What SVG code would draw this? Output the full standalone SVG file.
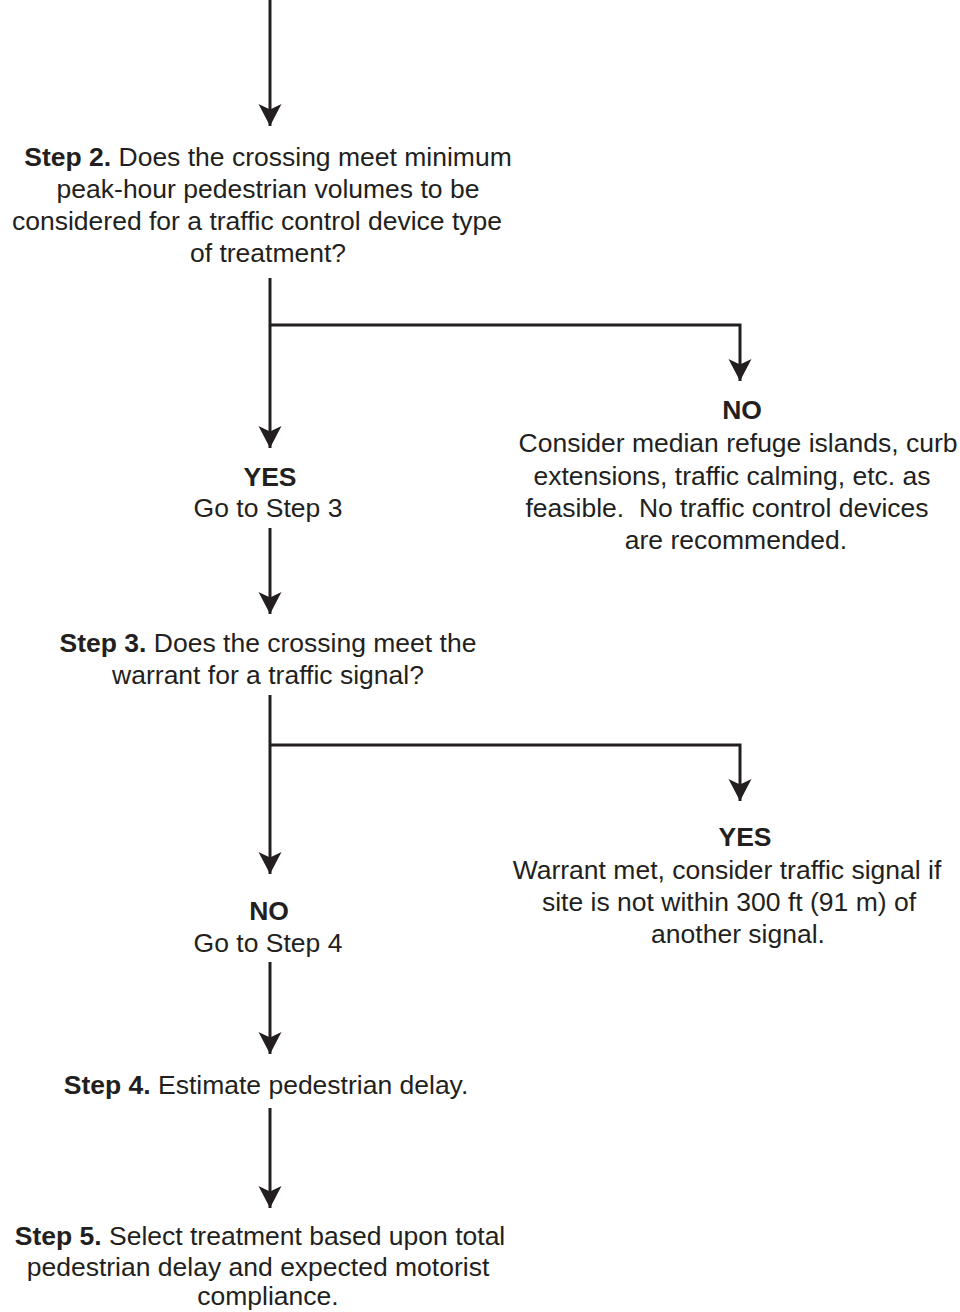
<svg xmlns="http://www.w3.org/2000/svg" width="960" height="1312" viewBox="0 0 960 1312">
<style>
text{font-family:"Liberation Sans",Arial,sans-serif;font-size:26.5px;fill:#231f20;text-anchor:middle}
.b{font-weight:bold}
.c{fill:none;stroke:#231f20;stroke-width:3}
</style>
<defs>
<marker id="ah" viewBox="-23 -12 24 24" refX="0" refY="0" markerWidth="24" markerHeight="24" markerUnits="userSpaceOnUse" orient="auto">
<path d="M0 0 L-22 -11.5 L-16.5 0 L-22 11.5 Z" fill="#231f20"/>
</marker>
</defs>
<rect width="960" height="1312" fill="#fff"/>
<g id="connectors">
<path class="c" d="M270 0 V126" marker-end="url(#ah)"/>
<path class="c" d="M270 278 V448" marker-end="url(#ah)"/>
<path class="c" d="M270 325 H740 V381" marker-end="url(#ah)"/>
<path class="c" d="M270 528 V614" marker-end="url(#ah)"/>
<path class="c" d="M270 695 V874" marker-end="url(#ah)"/>
<path class="c" d="M270 745 H740 V801" marker-end="url(#ah)"/>
<path class="c" d="M270 962 V1054" marker-end="url(#ah)"/>
<path class="c" d="M270 1108 V1208" marker-end="url(#ah)"/>
</g>
<g id="step2">
<text x="268" y="166"><tspan class="b">Step 2.</tspan> Does the crossing meet minimum</text>
<text x="268" y="198">peak-hour pedestrian volumes to be</text>
<text x="257" y="230">considered for a traffic control device type</text>
<text x="268" y="262">of treatment?</text>
</g>
<g id="no1">
<text class="b" x="742" y="419">NO</text>
<text x="738" y="452">Consider median refuge islands, curb</text>
<text x="732" y="485">extensions, traffic calming, etc. as</text>
<text x="727" y="517">feasible.&#160; No traffic control devices</text>
<text x="736" y="549">are recommended.</text>
</g>
<g id="yes1">
<text class="b" x="270" y="486">YES</text>
<text x="268" y="517">Go to Step 3</text>
</g>
<g id="step3">
<text x="268" y="652"><tspan class="b">Step 3.</tspan> Does the crossing meet the</text>
<text x="268" y="684">warrant for a traffic signal?</text>
</g>
<g id="yes2">
<text class="b" x="745" y="846">YES</text>
<text x="727" y="879">Warrant met, consider traffic signal if</text>
<text x="729" y="911">site is not within 300 ft (91 m) of</text>
<text x="738" y="943">another signal.</text>
</g>
<g id="no2">
<text class="b" x="269" y="920">NO</text>
<text x="268" y="952">Go to Step 4</text>
</g>
<g id="step4">
<text x="266" y="1094"><tspan class="b">Step 4.</tspan> Estimate pedestrian delay.</text>
</g>
<g id="step5">
<text x="260" y="1245"><tspan class="b">Step 5.</tspan> Select treatment based upon total</text>
<text x="258" y="1276">pedestrian delay and expected motorist</text>
<text x="268" y="1305">compliance.</text>
</g>
</svg>
